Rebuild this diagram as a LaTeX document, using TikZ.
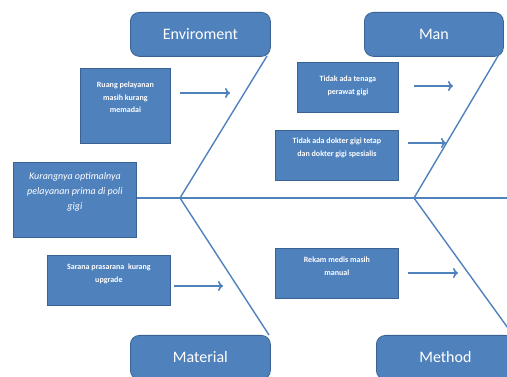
\documentclass[tikz,border=0pt]{standalone}
\usepackage{fontspec}
\setmainfont{Carlito}
\usetikzlibrary{arrows.meta}
\definecolor{ob}{HTML}{4F81BD}
\definecolor{obd}{HTML}{3A6394}
\begin{document}
\begin{tikzpicture}[x=1pt,y=-1pt,
 cat/.style={draw=obd, fill=ob, rounded corners=9pt, text=white, font=\fontsize{16}{18}\selectfont, line width=0.8pt, minimum width=140pt, minimum height=44pt, anchor=north west, inner sep=0pt},
 cause/.style={draw=obd, fill=ob, line width=0.8pt, anchor=north west, inner sep=0pt},
 ctext/.style={text=white, font=\bfseries\fontsize{8}{12.5}\selectfont, align=center, anchor=north, inner sep=0pt},
 bone/.style={draw=ob, line width=1.4pt},
 arr/.style={draw=ob, line width=1.6pt, -{To[length=5pt,width=10pt]}}]
\useasboundingbox (0,0) rectangle (507,377);
\clip (0,0) rectangle (507,377);
% category boxes
\node[cat] (env) at (130,12) {Enviroment};
\node[cat, minimum width=139pt] (man) at (364,12) {Man};
\node[cat] (mat) at (130,335) {Material};
\node[cat, minimum width=138pt] (met) at (376,335) {Method};
% effect box
\node[cause, minimum width=123pt, minimum height=75pt] (eff) at (13,162) {};
\node[ctext, font=\itshape\fontsize{10}{15}\selectfont] (efft) at ([yshift=-10pt]eff.north) {Kurangnya optimalnya\\pelayanan prima di poli\\gigi};
% cause boxes
\node[cause, minimum width=90pt, minimum height=75pt] (c1) at (80,68) {};
\node[ctext] (c1t) at ([yshift=-14pt]c1.north) {Ruang pelayanan\\masih kurang\\memadai};
\node[cause, minimum width=101pt, minimum height=50pt] (c2) at (297,62) {};
\node[ctext] (c2t) at ([yshift=-14pt]c2.north) {Tidak ada tenaga\\perawat gigi};
\node[cause, minimum width=123pt, minimum height=50pt] (c3) at (275,130) {};
\node[ctext] (c3t) at ([yshift=-8pt]c3.north) {Tidak ada dokter gigi tetap\\dan dokter gigi spesialis};
\node[cause, minimum width=123pt, minimum height=50pt] (c4) at (47,255) {};
\node[ctext] (c4t) at ([yshift=-9pt]c4.north) {Sarana prasarana \ kurang\\upgrade};
\node[cause, minimum width=123pt, minimum height=50pt] (c5) at (275,248) {};
\node[ctext] (c5t) at ([yshift=-9pt]c5.north) {Rekam medis masih\\manual};
% skeleton
\coordinate (e1) at (267,56);
\coordinate (j1) at (180,198);
\coordinate (m1) at (269,335);
\coordinate (n1) at (498,56);
\coordinate (j2) at (414,198);
\coordinate (d1) at (513,335);
\coordinate (tail) at (510,198);
\draw[bone] (eff.east |- j1) -- (tail);
\draw[bone] (e1) -- (j1) -- (m1);
\draw[bone] (n1) -- (j2) -- (d1);
% arrows
\coordinate (a1s) at (180,93);  \coordinate (a1e) at (230,93);
\coordinate (a2s) at (414,86);  \coordinate (a2e) at (453,86);
\coordinate (a3s) at (408,143); \coordinate (a3e) at (446,143);
\coordinate (a4s) at (174,286); \coordinate (a4e) at (223,286);
\coordinate (a5s) at (408,273); \coordinate (a5e) at (458,273);
\draw[arr] (a1s) -- (a1e);
\draw[arr] (a2s) -- (a2e);
\draw[arr] (a3s) -- (a3e);
\draw[arr] (a4s) -- (a4e);
\draw[arr] (a5s) -- (a5e);
\end{tikzpicture}
\end{document}
